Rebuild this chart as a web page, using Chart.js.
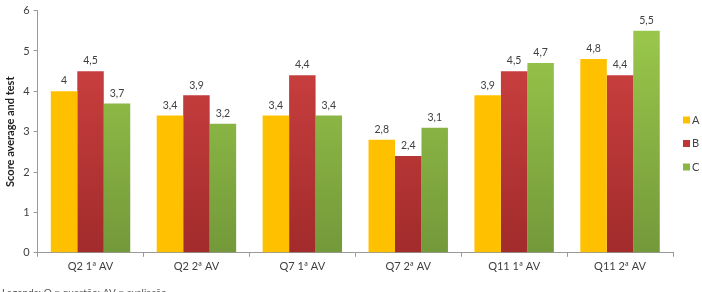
<!DOCTYPE html>
<html>
<head>
<meta charset="utf-8">
<script src="https://cdn.jsdelivr.net/npm/chart.js@4.4.0/dist/chart.umd.min.js"></script>
<style>
  html, body { margin: 0; padding: 0; background: #fff; }
  #wrap { position: relative; width: 702px; height: 292px; overflow: hidden; }
</style>
</head>
<body>
<div id="wrap"><canvas id="chart" width="702" height="292"></canvas></div>
<script>
const categories = ["Q2 1ª AV", "Q2 2ª AV", "Q7 1ª AV", "Q7 2ª AV", "Q11 1ª AV", "Q11 2ª AV"];
const seriesA = [4, 3.4, 3.4, 2.8, 3.9, 4.8];
const seriesB = [4.5, 3.9, 4.4, 2.4, 4.5, 4.4];
const seriesC = [3.7, 3.2, 3.4, 3.1, 4.7, 5.5];
const yTicks = [0, 1, 2, 3, 4, 5, 6];
const legendColors = ["#FFC000", "#C03535", "#8AB744"];

const FONT = "Lato, 'Open Sans', sans-serif";

function grad(top, bottom) {
  return (c) => {
    const area = c.chart.chartArea;
    if (!area) return bottom;
    const g = c.chart.ctx.createLinearGradient(0, area.top, 0, area.bottom);
    g.addColorStop(0, top);
    g.addColorStop(1, bottom);
    return g;
  };
}

const labelPlugin = {
  id: "valueLabels",
  afterDatasetsDraw(chart) {
    const ctx = chart.ctx;
    ctx.save();
    ctx.font = "10.5px " + FONT;
    ctx.fillStyle = "#404040";
    ctx.textAlign = "center";
    ctx.textBaseline = "bottom";
    chart.data.datasets.forEach((ds, i) => {
      chart.getDatasetMeta(i).data.forEach((bar, j) => {
        ctx.fillText(String(ds.data[j]).replace(".", ","), bar.x, bar.y - 5);
      });
    });

    // legend on the right
    ctx.font = "11px " + FONT;
    ctx.textAlign = "left";
    ctx.textBaseline = "middle";
    chart.data.datasets.forEach((ds, i) => {
      const y = 120 + i * 23.5;
      ctx.fillStyle = legendColors[i];
      ctx.fillRect(683, y - 3.5, 7, 7);
      ctx.fillStyle = "#404040";
      ctx.fillText(ds.label, 692, y);
    });

    // note at the bottom
    ctx.font = "10px " + FONT;
    ctx.textBaseline = "top";
    ctx.fillStyle = "#555";
    ctx.fillText("Legenda: Q = questão; AV = avaliação", 2, 288);
    ctx.restore();
  }
};

const chart = new Chart(document.getElementById("chart"), {
  type: "bar",
  data: {
    labels: categories,
    datasets: [
      { label: "A", data: seriesA, backgroundColor: "#FFC000" },
      { label: "B", data: seriesB, backgroundColor: grad("#D44444", "#A22B2B") },
      { label: "C", data: seriesC, backgroundColor: grad("#9DCB4C", "#73993A") }
    ]
  },
  options: {
    responsive: false,
    animation: false,
    layout: { padding: { top: 4, right: 29, bottom: 16, left: 2 } },
    datasets: { bar: { categoryPercentage: 0.75, barPercentage: 1 } },
    plugins: {
      tooltip: { enabled: false },
      legend: { display: false }
    },
    scales: {
      x: {
        grid: { display: true, drawOnChartArea: false, offset: true, tickLength: 4, color: "#999" },
        border: { color: "#999" },
        ticks: { color: "#404040", font: { family: FONT, size: 11 }, padding: 3 }
      },
      y: {
        min: 0, max: 6,
        afterBuildTicks: (axis) => { axis.ticks = yTicks.map(v => ({ value: v })); },
        grid: { display: true, drawOnChartArea: false, tickLength: 4, color: "#999" },
        border: { color: "#999" },
        ticks: { color: "#404040", font: { family: FONT, size: 11 }, padding: 4 },
        title: { display: true, text: "Score average and test", color: "#222", font: { family: FONT, size: 11, weight: "bold" }, padding: 2 }
      }
    }
  },
  plugins: [labelPlugin]
});
</script>
</body>
</html>
